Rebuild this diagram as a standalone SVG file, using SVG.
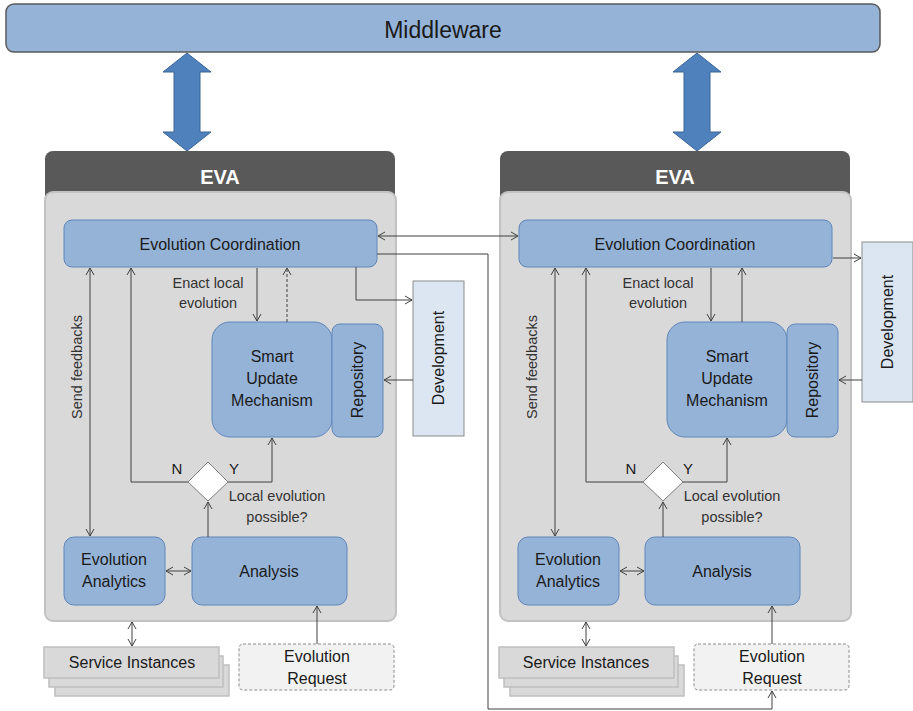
<svg xmlns="http://www.w3.org/2000/svg" width="913" height="711" viewBox="0 0 913 711">
  <style>
    .lbl { font-family: "Liberation Sans", Arial, sans-serif; fill: #1a1a1a; text-anchor: middle; }
    .note { font-family: "Liberation Sans", Arial, sans-serif; fill: #333333; text-anchor: middle; font-size: 14.5px; }
    .box { fill: #95b3d7; stroke: #5f86ba; stroke-width: 1; }
    .hdr { fill: #595959; }
    .body { fill: #d9d9d9; stroke: #c2c2c2; stroke-width: 2; }
    .dev { fill: #dce6f2; stroke: #8c8c8c; stroke-width: 1; }
    .svc { fill: #d9d9d9; stroke: #bfbfbf; stroke-width: 1.5; }
    .req { fill: #f2f2f2; stroke: #8c8c8c; stroke-width: 1; stroke-dasharray: 3 2; }
    .bigarrow { fill: #4f81bd; stroke: #3a6596; stroke-width: 1; }
    .wire { fill: none; stroke: #404040; stroke-width: 1; }
    .dash { stroke-dasharray: 3 2; }
  </style>
  <defs>
    <marker id="arr" markerUnits="userSpaceOnUse" markerWidth="10" markerHeight="10" refX="8" refY="5" orient="auto-start-reverse">
      <path d="M1,1 L8,5 L1,9" fill="none" stroke="#404040" stroke-width="1"/>
    </marker>
  </defs>

  <rect width="913" height="711" fill="#ffffff"/>

  <!-- Middleware bar -->
  <g id="middleware">
    <rect x="6" y="4" width="874" height="48" rx="8" fill="#95b3d7" stroke="#5a5a5a" stroke-width="1.5"/>
    <text class="lbl" x="443" y="38" font-size="23">Middleware</text>
  </g>

  <!-- Middleware links -->
  <g id="mw-links">
    <path class="bigarrow" d="M187,53 L211,72 L200,72 L200,132 L211,132 L187,151 L163,132 L174,132 L174,72 L163,72 Z"/>
    <path class="bigarrow" d="M697,53 L721,72 L710,72 L710,132 L721,132 L697,151 L673,132 L684,132 L684,72 L673,72 Z"/>
  </g>

  <!-- Left EVA container -->
  <g id="eva-left">
    <rect class="hdr" x="45" y="151" width="350" height="90" rx="8"/>
    <rect class="body" x="45" y="192" width="351" height="429" rx="8"/>
    <text x="220" y="184" font-family="Liberation Sans, Arial, sans-serif" font-weight="bold" font-size="20" fill="#ffffff" text-anchor="middle">EVA</text>
  </g>

  <!-- Right EVA container -->
  <g id="eva-right">
    <rect class="hdr" x="500" y="151" width="350" height="90" rx="8"/>
    <rect class="body" x="500" y="192" width="351" height="429" rx="8"/>
    <text x="675" y="184" font-family="Liberation Sans, Arial, sans-serif" font-weight="bold" font-size="20" fill="#ffffff" text-anchor="middle">EVA</text>
  </g>

  <!-- Left EVA nodes -->
  <g id="coord-left">
    <rect class="box" x="64" y="220" width="313" height="47" rx="8"/>
    <text class="lbl" x="220" y="250" font-size="16">Evolution Coordination</text>
  </g>
  <g id="sum-left">
    <rect class="box" x="212" y="322" width="120" height="115" rx="18"/>
    <text class="lbl" x="272" y="362" font-size="16">Smart</text>
    <text class="lbl" x="272" y="384" font-size="16">Update</text>
    <text class="lbl" x="272" y="406" font-size="16">Mechanism</text>
  </g>
  <g id="repo-left">
    <rect class="box" x="332" y="324" width="51" height="113" rx="8"/>
    <text class="lbl" font-size="16" transform="translate(363,380) rotate(-90)">Repository</text>
  </g>
  <g id="dev-left">
    <rect class="dev" x="413" y="281" width="51" height="155"/>
    <text class="lbl" font-size="16" transform="translate(444,358) rotate(-90)">Development</text>
  </g>
  <g id="decision-left">
    <path d="M208,462 L228,482 L208,501 L188,482 Z" fill="#ffffff" stroke="#7f7f7f" stroke-width="1"/>
  </g>
  <g id="analytics-left">
    <rect class="box" x="64" y="537" width="101" height="68" rx="10"/>
    <text class="lbl" x="114" y="565" font-size="16">Evolution</text>
    <text class="lbl" x="114" y="587" font-size="16">Analytics</text>
  </g>
  <g id="analysis-left">
    <rect class="box" x="192" y="537" width="155" height="68" rx="10"/>
    <text class="lbl" x="269" y="577" font-size="16">Analysis</text>
  </g>
  <g id="services-left">
    <rect class="svc" x="55" y="665" width="174" height="31"/>
    <rect class="svc" x="49" y="656" width="174" height="31"/>
    <rect class="svc" x="44" y="647" width="175" height="31"/>
    <text class="lbl" x="132" y="668" font-size="16">Service Instances</text>
  </g>
  <g id="request-left">
    <rect class="req" x="239" y="644" width="155" height="46" rx="4"/>
    <text class="lbl" x="317" y="662" font-size="16">Evolution</text>
    <text class="lbl" x="317" y="684" font-size="16">Request</text>
  </g>

  <!-- Right EVA nodes -->
  <g id="coord-right">
    <rect class="box" x="519" y="220" width="313" height="47" rx="8"/>
    <text class="lbl" x="675" y="250" font-size="16">Evolution Coordination</text>
  </g>
  <g id="sum-right">
    <rect class="box" x="667" y="322" width="120" height="115" rx="18"/>
    <text class="lbl" x="727" y="362" font-size="16">Smart</text>
    <text class="lbl" x="727" y="384" font-size="16">Update</text>
    <text class="lbl" x="727" y="406" font-size="16">Mechanism</text>
  </g>
  <g id="repo-right">
    <rect class="box" x="787" y="324" width="51" height="113" rx="8"/>
    <text class="lbl" font-size="16" transform="translate(818,380) rotate(-90)">Repository</text>
  </g>
  <g id="dev-right">
    <rect class="dev" x="862" y="242" width="51" height="160"/>
    <text class="lbl" font-size="16" transform="translate(893,322) rotate(-90)">Development</text>
  </g>
  <g id="decision-right">
    <path d="M663,462 L683,482 L663,501 L643,482 Z" fill="#ffffff" stroke="#7f7f7f" stroke-width="1"/>
  </g>
  <g id="analytics-right">
    <rect class="box" x="518" y="537" width="101" height="68" rx="10"/>
    <text class="lbl" x="568" y="565" font-size="16">Evolution</text>
    <text class="lbl" x="568" y="587" font-size="16">Analytics</text>
  </g>
  <g id="analysis-right">
    <rect class="box" x="645" y="537" width="155" height="68" rx="10"/>
    <text class="lbl" x="722" y="577" font-size="16">Analysis</text>
  </g>
  <g id="services-right">
    <rect class="svc" x="510" y="665" width="174" height="31"/>
    <rect class="svc" x="504" y="656" width="174" height="31"/>
    <rect class="svc" x="499" y="647" width="175" height="31"/>
    <text class="lbl" x="586" y="668" font-size="16">Service Instances</text>
  </g>
  <g id="request-right">
    <rect class="req" x="694" y="644" width="155" height="46" rx="4"/>
    <text class="lbl" x="772" y="662" font-size="16">Evolution</text>
    <text class="lbl" x="772" y="684" font-size="16">Request</text>
  </g>

  <!-- Connectors -->
  <g id="connectors">
    <!-- left EVA -->
    <path class="wire" d="M90,268 V536" marker-start="url(#arr)" marker-end="url(#arr)"/>
    <path class="wire" d="M131,268 V482 H188" marker-start="url(#arr)"/>
    <path class="wire" d="M257,268 V321" marker-end="url(#arr)"/>
    <path class="wire dash" d="M287,322 V268" marker-end="url(#arr)"/>
    <path class="wire" d="M228,482 H272 V438" marker-end="url(#arr)"/>
    <path class="wire" d="M208,537 V502" marker-end="url(#arr)"/>
    <path class="wire" d="M166,571 H191" marker-start="url(#arr)" marker-end="url(#arr)"/>
    <path class="wire" d="M132,622 V646" marker-start="url(#arr)" marker-end="url(#arr)"/>
    <path class="wire" d="M317,644 V606" marker-end="url(#arr)"/>
    <path class="wire" d="M356,267 V300 H412" marker-end="url(#arr)"/>
    <path class="wire" d="M413,380 H384" marker-end="url(#arr)"/>

    <!-- right EVA -->
    <path class="wire" d="M555,268 V536" marker-start="url(#arr)" marker-end="url(#arr)"/>
    <path class="wire" d="M586,268 V482 H643" marker-start="url(#arr)"/>
    <path class="wire" d="M711,268 V321" marker-end="url(#arr)"/>
    <path class="wire" d="M742,322 V268" marker-end="url(#arr)"/>
    <path class="wire" d="M683,482 H727 V438" marker-end="url(#arr)"/>
    <path class="wire" d="M663,537 V502" marker-end="url(#arr)"/>
    <path class="wire" d="M620,571 H644" marker-start="url(#arr)" marker-end="url(#arr)"/>
    <path class="wire" d="M586,622 V646" marker-start="url(#arr)" marker-end="url(#arr)"/>
    <path class="wire" d="M772,644 V606" marker-end="url(#arr)"/>
    <path class="wire" d="M833,258 H861" marker-end="url(#arr)"/>
    <path class="wire" d="M862,380 H839" marker-end="url(#arr)"/>

    <!-- between EVAs -->
    <path class="wire" d="M378,236 H518" marker-start="url(#arr)" marker-end="url(#arr)"/>
    <path class="wire" d="M377,254 H488 V709 H772 V691" marker-end="url(#arr)"/>
  </g>

  <!-- Connector labels -->
  <g id="labels">
    <text class="note" x="208" y="288">Enact local</text>
    <text class="note" x="208" y="308">evolution</text>
    <text class="note" transform="translate(82,367) rotate(-90)">Send feedbacks</text>
    <text class="lbl" x="177" y="474" font-size="15">N</text>
    <text class="lbl" x="234" y="474" font-size="15">Y</text>
    <text class="note" x="277" y="501">Local evolution</text>
    <text class="note" x="277" y="522">possible?</text>

    <text class="note" x="658" y="288">Enact local</text>
    <text class="note" x="658" y="308">evolution</text>
    <text class="note" transform="translate(537,367) rotate(-90)">Send feedbacks</text>
    <text class="lbl" x="631" y="474" font-size="15">N</text>
    <text class="lbl" x="688" y="474" font-size="15">Y</text>
    <text class="note" x="732" y="501">Local evolution</text>
    <text class="note" x="732" y="522">possible?</text>
  </g>
</svg>
